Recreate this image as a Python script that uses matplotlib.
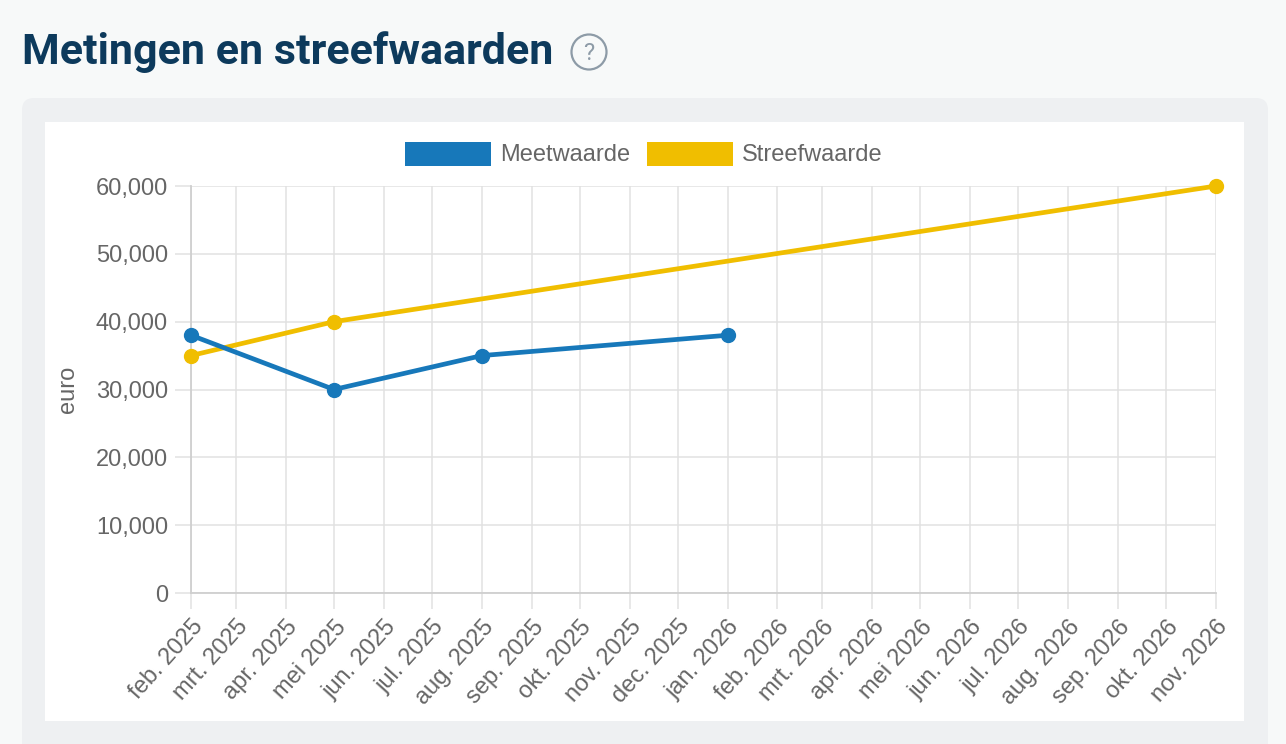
import matplotlib
matplotlib.use('Agg')
import matplotlib.pyplot as plt
import matplotlib.dates as mdates
from matplotlib.patches import FancyBboxPatch, Rectangle, Circle, Patch
from datetime import date

# data
meet_dates = [date(2025, 2, 1), date(2025, 5, 1), date(2025, 8, 1), date(2026, 1, 1)]
meet_values = [38000, 30000, 35000, 38000]
streef_dates = [date(2025, 2, 1), date(2025, 5, 1), date(2026, 11, 1)]
streef_values = [35000, 40000, 60000]

month_names = ['jan.', 'feb.', 'mrt.', 'apr.', 'mei', 'jun.',
               'jul.', 'aug.', 'sep.', 'okt.', 'nov.', 'dec.']
y_ticks = [0, 10000, 20000, 30000, 40000, 50000, 60000]

blue = '#1778ba'
yellow = '#f0be00'
grey_text = '#666666'
grid_col = '#e1e1e1'
font = 'Liberation Sans'

W, H = 1286, 744
fig = plt.figure(figsize=(W / 100, H / 100), dpi=100)
fig.patch.set_facecolor('#f7f9f9')


def px_box(x0, y0, x1, y1):
    # pixel box (top-left origin) -> inches for dpi_scale_trans
    return x0 / 100, (H - y1) / 100, (x1 - x0) / 100, (y1 - y0) / 100


# grey panel with rounded corners, white chart area inside
x, y, w, h = px_box(22, 98, 1268, 800)
fig.patches.append(FancyBboxPatch((x, y), w, h, boxstyle='round,pad=0,rounding_size=0.12',
                                  transform=fig.dpi_scale_trans, facecolor='#eef0f2',
                                  edgecolor='none', zorder=0))
x, y, w, h = px_box(45, 122, 1244, 721)
fig.patches.append(Rectangle((x, y), w, h, transform=fig.dpi_scale_trans,
                             facecolor='white', edgecolor='none', zorder=1))

# title + help icon
fig.text(22 / W, 1 - 52 / H, 'Metingen en streefwaarden', fontsize=31, fontweight='bold',
         family='Roboto', color='#0d3a5c', va='center', ha='left')
fig.patches.append(Circle((589 / 100, (H - 52) / 100), 0.175, transform=fig.dpi_scale_trans,
                          facecolor='none', edgecolor='#8d9ba7', linewidth=1.6, zorder=3))
fig.text(589 / W, 1 - 53 / H, '?', fontsize=17, color='#8d9ba7', ha='center', va='center',
         family='Roboto')

ax = fig.add_axes([191 / W, (H - 593) / H, (1216 - 191) / W, (593 - 186) / H])
ax.set_facecolor('white')
ax.set_zorder(2)

ax.plot(streef_dates, streef_values, color=yellow, lw=3.4, marker='o', ms=10,
        clip_on=False, zorder=3)
ax.plot(meet_dates, meet_values, color=blue, lw=3.4, marker='o', ms=10,
        clip_on=False, zorder=4)

ax.set_xlim(date(2025, 2, 1), date(2026, 11, 1))
ax.set_ylim(0, 60000)

ax.xaxis.set_major_locator(mdates.MonthLocator())
ax.xaxis.set_major_formatter(plt.FuncFormatter(
    lambda v, pos: f"{month_names[mdates.num2date(v).month - 1]} {mdates.num2date(v).year}"))
ax.set_yticks(y_ticks)
ax.set_yticklabels([f'{v:,}' for v in y_ticks])

ax.grid(True, color=grid_col, lw=1.1)
ax.set_axisbelow(True)
for s in ['top', 'right']:
    ax.spines[s].set_visible(False)
for s in ['left', 'bottom']:
    ax.spines[s].set_color('#cfcfcf')
    ax.spines[s].set_linewidth(1.3)
ax.tick_params(axis='both', colors=grid_col, length=11.5, width=1.1, labelcolor=grey_text,
               labelsize=17, pad=5)
for lab in ax.get_xticklabels():
    lab.set_rotation(48)
    lab.set_ha('right')
    lab.set_rotation_mode('anchor')
    lab.set_family(font)
for lab in ax.get_yticklabels():
    lab.set_family(font)
ax.set_ylabel('euro', color=grey_text, fontsize=17, family=font, va='center')
ax.yaxis.set_label_coords((68 - 191) / 1025, 0.5)

handles = [Patch(facecolor=blue, edgecolor='none'), Patch(facecolor=yellow, edgecolor='none')]
leg = fig.legend(handles, ['Meetwaarde', 'Streefwaarde'], loc='center',
                 bbox_to_anchor=(644 / W, 1 - 154 / H), ncol=2, frameon=False,
                 prop={'family': font, 'size': 17},
                 handlelength=3.64, handleheight=1.19, handletextpad=0.38,
                 columnspacing=0.72, labelcolor=grey_text)
leg.set_zorder(5)

fig.savefig('out.png', dpi=100, facecolor=fig.get_facecolor())
